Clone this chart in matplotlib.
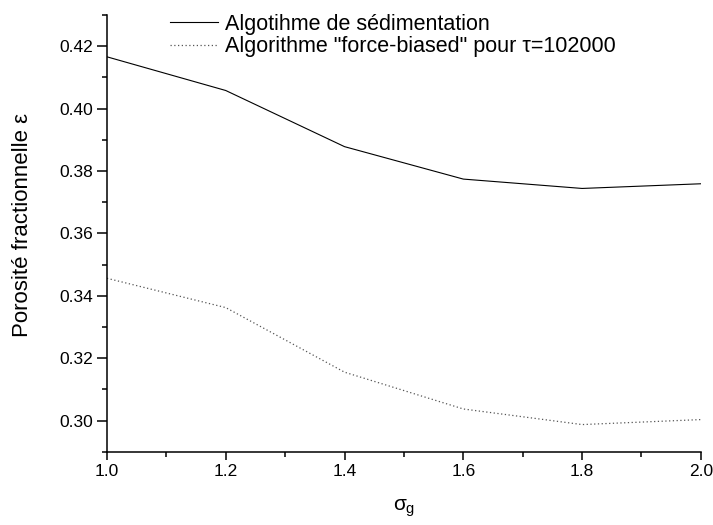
import matplotlib

matplotlib.use("Agg")
import matplotlib.pyplot as plt
from matplotlib.ticker import FormatStrFormatter, MultipleLocator

plt.rcParams["font.family"] = ["Liberation Sans", "DejaVu Sans"]
plt.rcParams["mathtext.fontset"] = "custom"
plt.rcParams["mathtext.rm"] = "Liberation Sans"
plt.rcParams["mathtext.it"] = "Liberation Sans"

# grain-size spread and resulting porosity for the two packing algorithms
sigma_g = [1.0, 1.2, 1.4, 1.6, 1.8, 2.0]
eps_sedimentation = [0.4166, 0.4058, 0.3878, 0.3774, 0.3744, 0.3759]
eps_force_biased = [0.3456, 0.3362, 0.3155, 0.3037, 0.2987, 0.3003]

x_ticks = [1.0, 1.2, 1.4, 1.6, 1.8, 2.0]
y_ticks = [0.30, 0.32, 0.34, 0.36, 0.38, 0.40, 0.42]

label_sed = "Algotihme de sédimentation"
label_fb = 'Algorithme "force-biased" pour τ=102000'

fig = plt.figure(figsize=(7.13, 5.25), dpi=100)
ax = fig.add_axes([0.150, 0.1396, 0.833, 0.8318])

ax.plot(sigma_g, eps_sedimentation, "-", color="black", lw=0.8, label=label_sed)
ax.plot(sigma_g, eps_force_biased, linestyle=(0, (1, 2)), color="#555555", lw=0.9,
        label=label_fb)

ax.set_xlim(1.0, 2.0)
ax.set_ylim(0.29, 0.43)
ax.set_xticks(x_ticks)
ax.set_yticks(y_ticks)
ax.xaxis.set_minor_locator(MultipleLocator(0.1))
ax.yaxis.set_minor_locator(MultipleLocator(0.01))
ax.xaxis.set_major_formatter(FormatStrFormatter("%.1f"))
ax.yaxis.set_major_formatter(FormatStrFormatter("%.2f"))

for side in ("top", "right"):
    ax.spines[side].set_visible(False)
for side in ("left", "bottom"):
    ax.spines[side].set_linewidth(1.1)
ax.tick_params(which="both", direction="out", width=1.1, labelsize=12.5)
ax.tick_params(axis="x", which="major", length=6, pad=3)
ax.tick_params(axis="y", which="major", length=7, pad=3)
ax.tick_params(which="minor", length=3.5)

ax.set_xlabel(r"$\sigma_{\mathregular{g}}$", fontsize=15, labelpad=13)
ax.set_ylabel("Porosité fractionnelle ε", fontsize=16)
ax.yaxis.set_label_coords(-0.125, 0.52)

ax.legend(loc="upper left", bbox_to_anchor=(170 / 713, 1 - 14 / 525),
          bbox_transform=fig.transFigure, frameon=False, fontsize=15.5,
          handlelength=2.23, handletextpad=0.33, labelspacing=0.05,
          borderpad=0, borderaxespad=0)

fig.savefig("out.png", dpi=100)
